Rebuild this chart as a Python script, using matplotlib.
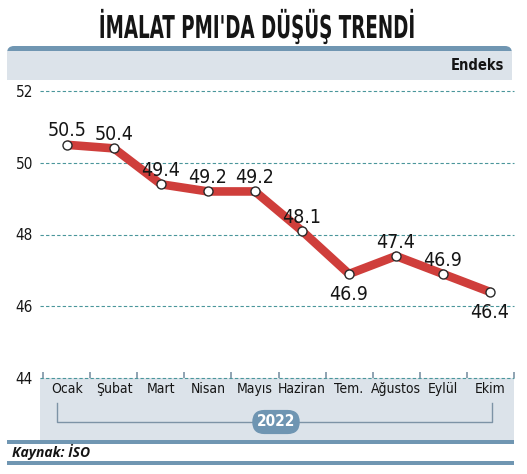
import matplotlib
matplotlib.use("Agg")
import matplotlib.pyplot as plt
from matplotlib import font_manager
from matplotlib.font_manager import FontProperties
from matplotlib.patches import Rectangle, FancyBboxPatch, PathPatch
from matplotlib.textpath import TextPath
from matplotlib.transforms import Affine2D

months = ["Ocak", "Şubat", "Mart", "Nisan", "Mayıs", "Haziran", "Tem.", "Ağustos", "Eylül", "Ekim"]
pmi = [50.5, 50.4, 49.4, 49.2, 49.2, 48.1, 46.9, 47.4, 46.9, 46.4]
label_below = [False, False, False, False, False, False, True, False, False, True]
yticks = [44, 46, 48, 50, 52]
year = "2022"
title = "İMALAT PMI'DA DÜŞÜŞ TRENDİ"

# look for a condensed face on the system
files = [f.fname for f in font_manager.fontManager.ttflist]
found = font_manager.findSystemFonts()
allf = sorted(set(files + found))


def pick(keys):
    for k in keys:
        for f in allf:
            if f.split("/")[-1].lower() == k.lower():
                return f
    return None


reg_file = pick(["DejaVuSansCondensed.ttf", "LiberationSansNarrow-Regular.ttf", "RobotoCondensed-Regular.ttf"])
bold_file = pick(["DejaVuSansCondensed-Bold.ttf", "LiberationSansNarrow-Bold.ttf", "RobotoCondensed-Bold.ttf"])


def fp(size, bold=False):
    f = bold_file if bold else reg_file
    if f:
        return FontProperties(fname=f, size=size)
    return FontProperties(family="DejaVu Sans", size=size * 0.88,
                          weight="bold" if bold else "normal")


W, H = 527, 474
fig = plt.figure(figsize=(W / 100, H / 100), dpi=100)
fig.patch.set_facecolor("white")

# background layer in pixel coordinates
bg = fig.add_axes([0, 0, 1, 1], zorder=0)
bg.set_xlim(0, W)
bg.set_ylim(H, 0)
bg.axis("off")

band = "#dce3ea"
steel = "#7096b2"

bg.add_patch(FancyBboxPatch((7, 46), 505, 34, boxstyle="round,pad=0,rounding_size=7",
                            fc=steel, ec="none"))
bg.add_patch(Rectangle((7, 50.5), 505, 29.5, fc=band, ec="none"))
bg.add_patch(Rectangle((40, 378), 474, 62, fc=band, ec="none"))
bg.add_patch(Rectangle((7, 440), 507, 4, fc=steel, ec="none"))
bg.add_patch(Rectangle((7, 461), 507, 3.5, fc=steel, ec="none"))

# title: narrow the glyphs to get the tall condensed look
tp = TextPath((0, 0), title, prop=fp(31.5, True))
ext = tp.get_extents()
sx = 313 / ext.width
tr = Affine2D().translate(-(ext.x0 + ext.width / 2), 0).scale(sx, -1).translate(257, 38)
bg.add_patch(PathPatch(tr.transform_path(tp), fc="#151515", ec="none", lw=0))

bg.text(504, 65, "Endeks", ha="right", va="center", fontproperties=fp(10.5, True), color="#151515")
bg.text(12, 452, "Kaynak: İSO", ha="left", va="center", fontsize=10,
        fontweight="bold", style="italic", family=["Open Sans", "DejaVu Sans"], color="#151515")

# year bracket
bg.plot([57, 57, 492, 492], [403, 422, 422, 403], color="#7d93a6", lw=1)
bg.text(276, 422, year, ha="center", va="center", fontproperties=fp(11, True), color="white",
        bbox=dict(boxstyle="round,pad=0.3,rounding_size=0.8", fc="#6f95b2", ec="none"))

# main chart
ax = fig.add_axes([40 / W, 1 - 378 / H, 474 / W, (378 - 91) / H], zorder=1)
ax.patch.set_alpha(0)
x = list(range(len(months)))
ax.plot(x, pmi, color="#cf3e3b", lw=6.2, solid_capstyle="butt", solid_joinstyle="miter", zorder=3)
ax.plot(x, pmi, ls="none", marker="o", ms=6.5, mfc="white", mec="#2a2a2a", mew=1, zorder=4)
for xi, v, below in zip(x, pmi, label_below):
    off = -15 if below else 10
    ax.annotate(f"{v:.1f}", (xi, v), xytext=(0, off), textcoords="offset points",
                ha="center", va="center", fontproperties=fp(14), color="#151515", zorder=5)

ax.set_xlim(-0.574, 9.51)
ax.set_ylim(44, 52)
ax.set_yticks(yticks)
ax.set_yticklabels([str(t) for t in yticks], fontproperties=fp(11), color="#151515")
ax.set_xticks(x)
ax.set_xticklabels(months, fontproperties=fp(10), color="#151515")
ax.set_xticks([i - 0.5 for i in range(len(months) + 1)], minor=True)
ax.tick_params(axis="x", which="major", length=0, pad=3)
ax.tick_params(axis="x", which="minor", direction="in", length=4, width=1.2, color="#7d93a6")
ax.tick_params(axis="y", length=0, pad=5)
for t in yticks:
    ax.axhline(t, ls=(0, (3, 2)), color="#4a969b", lw=0.8, clip_on=False, zorder=1)
for s in ax.spines.values():
    s.set_visible(False)

fig.savefig("out.png", dpi=100)
